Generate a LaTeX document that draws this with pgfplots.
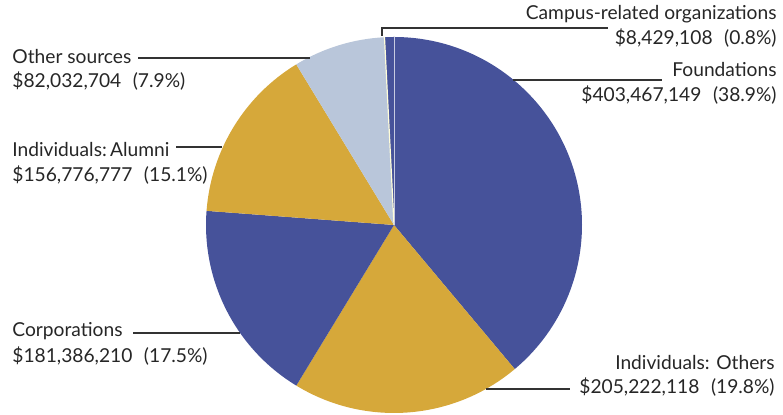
\documentclass[border=0pt]{standalone}
\usepackage{fontspec}
\setmainfont{Lato}
\usepackage{pgfplots}
\usepackage{pgfplotstable}
\pgfplotsset{compat=1.18}
\definecolor{pieblue}{HTML}{46529A}
\definecolor{piegold}{HTML}{D6A83A}
\definecolor{pielight}{HTML}{B9C6DA}
\definecolor{leader}{HTML}{333333}

% slices clockwise from the top
\pgfplotstableread[col sep=comma]{
name,amount,pct,col
Foundations,403467149,38.9,pieblue
Individuals: Others,205222118,19.8,piegold
Corporations,181386210,17.5,pieblue
Individuals: Alumni,156776777,15.1,piegold
Other sources,82032704,7.9,pielight
Campus-related organizations,8429108,0.8,pieblue
}\pietable

\newcommand{\lab}{\fontsize{9.6}{12}\selectfont}

\begin{document}
\begin{tikzpicture}
\path[use as bounding box] (0,0) rectangle (391.5pt,207.5pt);
\begin{axis}[
  anchor=origin, at={(0,0)},
  x=0.5pt, y=0.5pt,
  xmin=0, xmax=783, ymin=0, ymax=415,
  hide axis, clip=false,
]
% pie: centre (394,190) in pixel units, radius 188 px = 94pt
\def\angle{90}
\pgfplotsforeachungrouped \i in {0,...,5}{%
  \pgfplotstablegetelem{\i}{pct}\of\pietable
  \pgfmathsetmacro\endang{\angle-3.6*\pgfplotsretval}%
  \pgfplotstablegetelem{\i}{col}\of\pietable
  \edef\cmd{\noexpand\fill[\pgfplotsretval] (axis cs:394,190) -- ++(\angle:94pt)
    arc[start angle=\angle, end angle=\endang, radius=94pt] -- cycle;}%
  \cmd
  \global\let\angle\endang
}
% thin separators at the top
\draw[color=white!85!yellow, line width=0.6pt] (axis cs:394,190) -- ++(92.9:94pt);
\draw[color=white!70!pieblue, line width=0.3pt] (axis cs:394,190) -- ++(90:94pt);

% leader lines
\draw[leader, line width=0.7pt] (axis cs:382,379) -- (axis cs:382,387) -- (axis cs:608,387);
\draw[leader, line width=0.7pt] (axis cs:513,335) -- (axis cs:662,335);
\draw[leader, line width=0.7pt] (axis cs:138,357) -- (axis cs:310,357);
\draw[leader, line width=0.7pt] (axis cs:176,268) -- (axis cs:222,268);
\draw[leader, line width=0.7pt] (axis cs:133,82) -- (axis cs:240,82);
\draw[leader, line width=0.7pt] (axis cs:486,26) -- (axis cs:570,26);

% labels
\tikzset{every node/.style={inner sep=0pt, text=black!85}}
\node[anchor=base east] at (axis cs:777,395) {\lab Campus-related organizations};
\node[anchor=base east] at (axis cs:777,370) {\lab \$8,429,108\hspace{0.6em}(0.8\%)};
\node[anchor=base east] at (axis cs:777,338) {\lab Foundations};
\node[anchor=base east] at (axis cs:777,313) {\lab \$403,467,149\hspace{0.6em}(38.9\%)};
\node[anchor=base east] at (axis cs:775,45) {\lab Individuals: Others};
\node[anchor=base east] at (axis cs:775,21) {\lab \$205,222,118\hspace{0.6em}(19.8\%)};
\node[anchor=base west] at (axis cs:12,351) {\lab Other sources};
\node[anchor=base west] at (axis cs:12,327) {\lab \$82,032,704\hspace{0.6em}(7.9\%)};
\node[anchor=base west] at (axis cs:12,258) {\lab Individuals:\,Alumni};
\node[anchor=base west] at (axis cs:12,233) {\lab \$156,776,777\hspace{0.6em}(15.1\%)};
\node[anchor=base west] at (axis cs:12,78) {\lab Corporations};
\node[anchor=base west] at (axis cs:12,52) {\lab \$181,386,210\hspace{0.6em}(17.5\%)};
\end{axis}
\end{tikzpicture}
\end{document}
